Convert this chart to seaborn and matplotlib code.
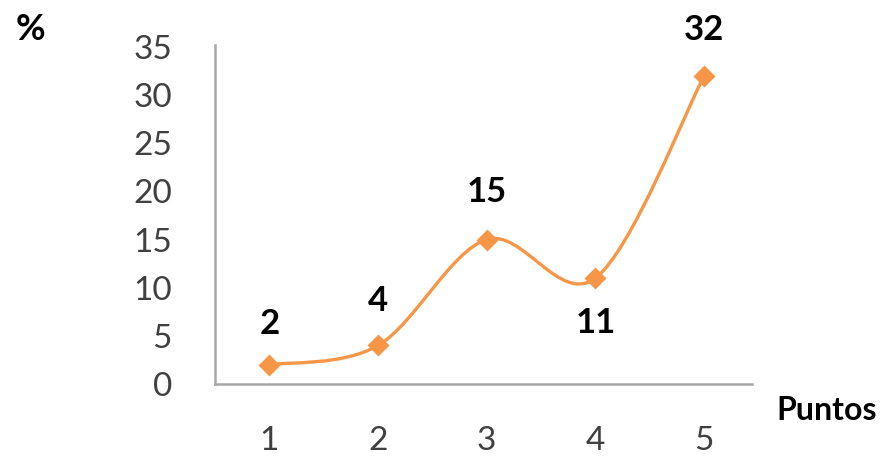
import numpy as np
import pandas as pd
import matplotlib
matplotlib.use("Agg")
import matplotlib.pyplot as plt
from matplotlib.path import Path
from matplotlib.patches import PathPatch
import seaborn as sns

# data
puntos = [1, 2, 3, 4, 5]
porcentaje = [2, 4, 15, 11, 32]
label_side = ["above", "above", "above", "below", "above"]
y_ticks = [0, 5, 10, 15, 20, 25, 30, 35]

sns.set_theme(style="white")
plt.rcParams["font.family"] = ["Lato", "DejaVu Sans"]

ORANGE = "#F79646"
fig = plt.figure(figsize=(8.84, 4.59), dpi=100)
ax = fig.add_axes([215 / 884, 1 - 384 / 459, (752 - 215) / 884, (384 - 45) / 459])

df = pd.DataFrame({"Puntos": puntos, "Porcentaje": porcentaje})

# Excel-style smoothed line (Bezier segments through the data points)
xs = np.array(puntos, dtype=float)
ys = np.array(porcentaje, dtype=float)
verts = [(xs[0], ys[0])]
codes = [Path.MOVETO]
n = len(xs)
for i in range(n - 1):
    p0 = np.array([xs[max(i - 1, 0)], ys[max(i - 1, 0)]])
    p1 = np.array([xs[i], ys[i]])
    p2 = np.array([xs[i + 1], ys[i + 1]])
    p3 = np.array([xs[min(i + 2, n - 1)], ys[min(i + 2, n - 1)]])
    c1 = p1 + (p2 - p0) / 6.0
    c2 = p2 - (p3 - p1) / 6.0
    verts += [tuple(c1), tuple(c2), tuple(p2)]
    codes += [Path.CURVE4, Path.CURVE4, Path.CURVE4]
ax.add_patch(PathPatch(Path(verts, codes), facecolor="none", edgecolor=ORANGE,
                       lw=2.4, capstyle="round", joinstyle="round", zorder=2))

sns.scatterplot(data=df, x="Puntos", y="Porcentaje", marker="D", s=125,
                color=ORANGE, edgecolor=ORANGE, linewidth=0, ax=ax, zorder=3)

offsets = [29, 32, 34, -32, 33]
for x, y, off in zip(puntos, porcentaje, offsets):
    ax.annotate(str(y), (x, y), xytext=(0, off), textcoords="offset points",
                ha="center", va="center", fontsize=25, fontweight="bold", color="black")

ax.set_xlim(0.5, 5.44)
ax.set_ylim(0, 35.2)
ax.set_xticks(puntos)
ax.set_xticklabels([str(p) for p in puntos])
ax.set_yticks(y_ticks)
ax.set_yticklabels([str(t) for t in y_ticks])
ax.tick_params(axis="both", length=0, labelsize=24, labelcolor="#404040")
ax.tick_params(axis="y", pad=31)
ax.tick_params(axis="x", pad=30)
ax.set_xlabel("")
ax.set_ylabel("")
for s in ["top", "right"]:
    ax.spines[s].set_visible(False)
for s in ["left", "bottom"]:
    ax.spines[s].set_color("#A6A6A6")
    ax.spines[s].set_linewidth(1.8)
ax.grid(False)

fig.text(30 / 884, 1 - 30 / 459, "%", ha="center", va="center", fontsize=26,
         fontweight="bold", color="black")
fig.text(827 / 884, 1 - 411 / 459, "Puntos", ha="center", va="center", fontsize=23,
         fontweight="bold", color="black")

fig.savefig("out.png", dpi=100)
